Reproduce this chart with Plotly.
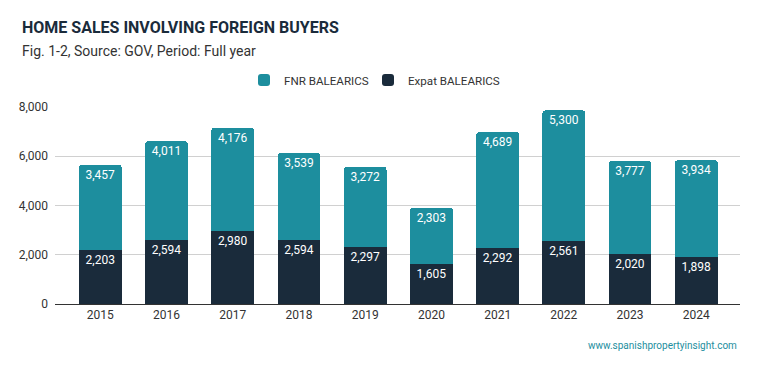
import plotly.graph_objects as go

years = ["2015", "2016", "2017", "2018", "2019", "2020", "2021", "2022", "2023", "2024"]
expat = [2203, 2594, 2980, 2594, 2297, 1605, 2292, 2561, 2020, 1898]
fnr = [3457, 4011, 4176, 3539, 3272, 2303, 4689, 5300, 3777, 3934]
y_ticks = [0, 2000, 4000, 6000, 8000]

TEAL = "#1d8e9e"
DARK = "#1a2b3b"
FONT = "Roboto, Arial, sans-serif"

W, H = 759, 371
L, R, T, B = 55, 19, 107, 67
PW, PH = W - L - R, H - T - B

fig = go.Figure()
fig.add_trace(go.Bar(
    x=years, y=expat, name="Expat BALEARICS", legend="legend2", showlegend=True,
    marker=dict(color=DARK, line=dict(width=0)),
    text=[f"{v:,}" for v in expat], textposition="inside",
    insidetextanchor="end", textangle=0,
    textfont=dict(color="white", size=12, family=FONT),
))
fig.add_trace(go.Bar(
    x=years, y=fnr, name="FNR BALEARICS", legend="legend", showlegend=True,
    marker=dict(color=TEAL, line=dict(width=0)),
    text=[f"{v:,}" for v in fnr], textposition="inside",
    insidetextanchor="end", textangle=0,
    textfont=dict(color="white", size=12, family=FONT),
))

legend_common = dict(orientation="h", xref="paper", xanchor="left",
                     yref="paper", y=1 + (T - 80) / PH, yanchor="middle",
                     font=dict(size=11.6, color="#333333"), itemwidth=30,
                     bgcolor="rgba(0,0,0,0)", visible=True)

fig.update_layout(
    width=W, height=H, autosize=False, showlegend=True,
    barmode="stack", bargap=0.355, barcornerradius=3,
    plot_bgcolor="white", paper_bgcolor="white",
    margin=dict(l=L, r=R, t=T, b=B, autoexpand=False),
    font=dict(family=FONT, color="#333333", size=12),
    uniformtext=dict(minsize=8, mode="show"),
    legend=dict(legend_common, x=(244 - L) / PW),
    legend2=dict(legend_common, x=(368 - L) / PW),
    xaxis=dict(range=[-0.684, 9.66], showgrid=False, showline=True,
               linecolor="#333333", linewidth=1, ticks="",
               tickfont=dict(size=12, color="#333333")),
    yaxis=dict(range=[0, 8000], tickvals=y_ticks, tickformat=",",
               showgrid=True, gridcolor="#d0d0d0", gridwidth=1,
               zeroline=False, ticks="", ticklabelstandoff=6,
               tickfont=dict(size=12, color="#333333")),
)

fig.add_annotation(text="<b>HOME SALES INVOLVING FOREIGN BUYERS</b>",
                   xref="paper", yref="paper", x=(20 - L) / PW, y=1 + (T - 27) / PH,
                   xanchor="left", yanchor="middle", showarrow=False,
                   font=dict(size=16, color="#1a2b3b", family=FONT))
fig.add_annotation(text="Fig. 1-2, Source: GOV, Period: Full year",
                   xref="paper", yref="paper", x=(20 - L) / PW, y=1 + (T - 51) / PH,
                   xanchor="left", yanchor="middle", showarrow=False,
                   font=dict(size=14, color="#333333", family=FONT))
fig.add_annotation(text="www.spanishpropertyinsight.com",
                   xref="paper", yref="paper", x=(739 - L) / PW, y=-(345 - (H - B)) / PH,
                   xanchor="right", yanchor="middle", showarrow=False,
                   font=dict(size=10, color=TEAL, family=FONT))

fig.write_html("out.html", config={"displayModeBar": False},
               post_script="document.body.style.margin='0';document.body.style.padding='0';document.body.style.overflow='hidden';")
